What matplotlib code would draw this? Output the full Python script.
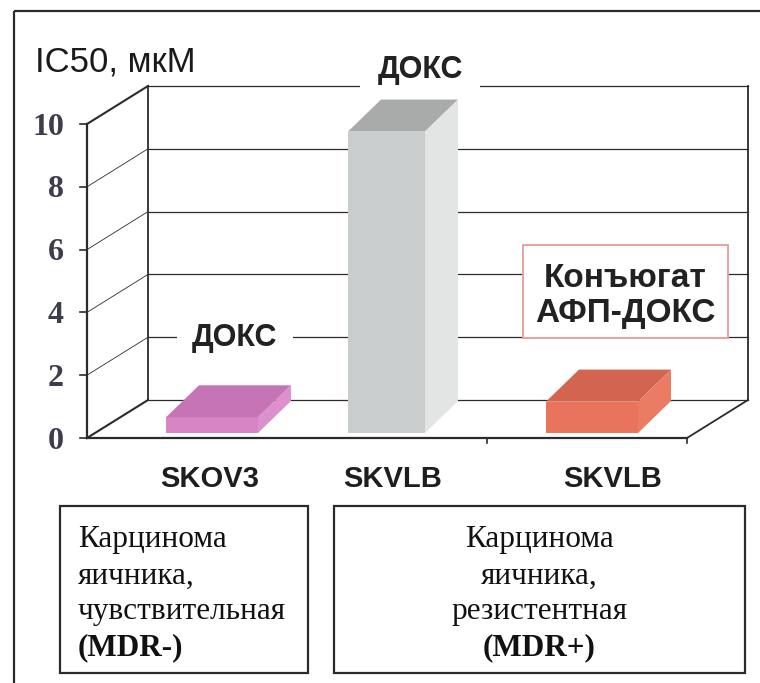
import matplotlib
matplotlib.use("Agg")
import matplotlib.pyplot as plt
from matplotlib.patches import Polygon, Rectangle

# data
categories = ["SKOV3", "SKVLB", "SKVLB"]
ic50 = [0.5, 9.6, 1.0]
yticks = [0, 2, 4, 6, 8, 10]
bar_labels = ["ДОКС", "ДОКС", "Конъюгат\nАФП-ДОКС"]
group_lines = [["Карцинома", "яичника,", "чувствительная"],
               ["Карцинома", "яичника,", "резистентная"]]
group_tags = ["(MDR-)", "(MDR+)"]

# styles
face_colors = [("#d785c5", "#c774b6", "#dc90cc"),
               ("#c9cdcd", "#a9abab", "#e3e5e5"),
               ("#e8745c", "#d3644f", "#eb7c64")]
bar_offset = [0.395, 0.305, 0.295]
bar_width = [0.46, 0.385, 0.46]
label_x = [0.615, 1.53, 2.63]

W, H = 760, 683
X0, Y0 = 87, 438          # pixel position of (0, 0)
XS, YS = 200, 31.4        # pixels per category / per unit
WALL_DX, WALL_DY = 61 / XS, 38 / YS
BAR_DX, BAR_DY = 33 / XS, 32 / YS
BAR_BASE = 5 / YS
DARK = "#2b2b2b"
SANS = "Liberation Sans"
SERIF = "Liberation Serif"

fig = plt.figure(figsize=(W / 100, H / 100), dpi=100)

# overlay in pixel coords for frame and bottom boxes
ov = fig.add_axes([0, 0, 1, 1])
ov.set_xlim(0, W)
ov.set_ylim(H, 0)
ov.axis("off")
ov.add_patch(Rectangle((14, 11), 760, 700, fill=False, ec=DARK, lw=1.6))
ov.text(35, 71, "IC50, мкМ", fontsize=25, family=SANS, color="#1a1a1a", va="baseline")

boxes = [(60, 506, 248, 167), (334, 506, 411, 167)]
for k, (bx, by, bw, bh) in enumerate(boxes):
    ov.add_patch(Rectangle((bx, by), bw, bh, fill=False, ec=DARK, lw=1.6))
    if k == 0:
        tx, ha = bx + 18, "left"
    else:
        tx, ha = bx + bw / 2, "center"
    for j, line in enumerate(group_lines[k]):
        ov.text(tx, by + 34 + 36 * j, line, fontsize=22.5, family=SERIF, ha=ha,
                va="center", color="#111111")
    ov.text(tx, by + 142, group_tags[k], fontsize=22.5, family=SERIF, weight="bold",
            ha=ha, va="center", color="#111111")

# chart axes in data coords
ax = fig.add_axes([0, 0, 1, 1])
ax.set_xlim(-X0 / XS, (W - X0) / XS)
ax.set_ylim((Y0 - H) / YS, Y0 / YS)
ax.axis("off")
ax.patch.set_alpha(0)

n = len(categories)
top = yticks[-1]

# back wall gridlines and left wall diagonals
for v in yticks:
    ax.plot([WALL_DX, n + WALL_DX], [v + WALL_DY] * 2, color=DARK, lw=0.9, zorder=1)
    lw = 1.5 if v in (0, top) else 0.6
    ax.plot([0, WALL_DX], [v, v + WALL_DY], color=DARK, lw=lw, zorder=1)
    ax.plot([-7 / XS, 0], [v, v], color=DARK, lw=1.2, zorder=1)
    ax.text(-23 / XS, v - 0.1, str(v), fontsize=23, family=SERIF, weight="bold",
            color="#3d3d4d", ha="right", va="center")

# walls and floor edges
ax.plot([WALL_DX, WALL_DX], [WALL_DY, top + WALL_DY], color=DARK, lw=1.3, zorder=1)
ax.plot([n + WALL_DX, n + WALL_DX], [WALL_DY, top + WALL_DY], color=DARK, lw=1.3, zorder=1)
ax.plot([0, 0], [0, top], color=DARK, lw=1.6, zorder=1)
ax.plot([0, n], [0, 0], color=DARK, lw=1.6, zorder=1)
ax.plot([n, n + WALL_DX], [0, WALL_DY], color=DARK, lw=1.3, zorder=1)
for c in range(2, n + 1):
    ax.plot([c, c], [0, -5 / YS], color=DARK, lw=1.2, zorder=1)

# bars
for i, v in enumerate(ic50):
    x0 = i + bar_offset[i]
    w = bar_width[i]
    b, t = BAR_BASE, BAR_BASE + v
    front_c, top_c, side_c = face_colors[i]
    ax.add_patch(Polygon([(x0, b), (x0 + w, b), (x0 + w, t), (x0, t)],
                         closed=True, fc=front_c, ec="none", zorder=3))
    ax.add_patch(Polygon([(x0, t), (x0 + w, t), (x0 + w + BAR_DX, t + BAR_DY),
                          (x0 + BAR_DX, t + BAR_DY)], closed=True, fc=top_c, ec="none", zorder=3))
    ax.add_patch(Polygon([(x0 + w, b), (x0 + w + BAR_DX, b + BAR_DY),
                          (x0 + w + BAR_DX, t + BAR_DY), (x0 + w, t)],
                         closed=True, fc=side_c, ec="none", zorder=3))
    ax.text(label_x[i], -41 / YS, categories[i], fontsize=21, family=SANS, weight="bold",
            ha="center", va="center", color="#1e1e1e")

# bar annotations
ax.text(0.74, 3.18, bar_labels[0], fontsize=22, family=SANS, weight="bold", ha="center",
        va="center", color="#222222", zorder=2,
        bbox=dict(boxstyle="square,pad=0.5", fc="white", ec="none"))
ax.text(1.665, 11.72, bar_labels[1], fontsize=22, family=SANS, weight="bold", ha="center",
        va="center", color="#222222", zorder=2,
        bbox=dict(boxstyle="square,pad=0.55", fc="white", ec="none"))
ax.add_patch(Rectangle((2.18, 3.185), 1.025, 2.96, fc="white", ec="#e89a9a", lw=1.3, zorder=2))
ax.text(2.69, 4.52, bar_labels[2], fontsize=24, family=SANS, weight="bold", ha="center",
        va="center", color="#222222", linespacing=1.15, zorder=2)

fig.savefig("out.png", dpi=100)
